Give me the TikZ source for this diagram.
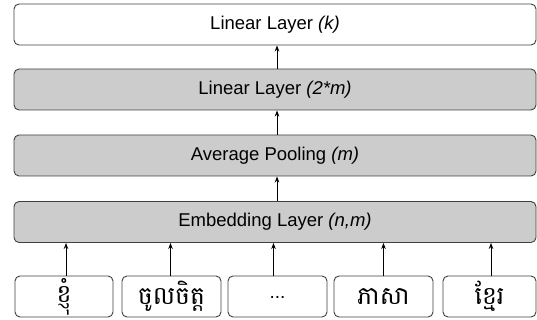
\documentclass[tikz,border=0pt]{standalone}
\usepackage{fontspec}
\setmainfont{Liberation Sans}
\newfontfamily\khmerfont[Script=Khmer]{Battambang}
\usetikzlibrary{arrows.meta}
\begin{document}
\begin{tikzpicture}[x=1pt,y=-1pt,
 layer/.style={draw=black!75, line width=0.9pt, rounded corners=5pt, fill=#1, minimum width=522pt, minimum height=41pt, inner sep=0pt, font=\fontsize{18.5}{22}\selectfont},
 tok/.style={draw=black!75, line width=0.9pt, rounded corners=5pt, fill=white, minimum width=#1, minimum height=41pt, inner sep=0pt, font=\fontsize{25}{28}\selectfont\khmerfont},
 arr/.style={-{Stealth[length=6pt,width=4.5pt]}, line width=0.8pt}]
\useasboundingbox (0,0) rectangle (537,320);
\node[layer=white] (lk) at (275,24.5) {Linear Layer \textit{(k)}};
\node[layer=black!20] (lm) at (275,89.5) {Linear Layer \textit{(2*m)}};
\node[layer=black!20] (ap) at (275,155.5) {Average Pooling \textit{(m)}};
\node[layer=black!20] (emb) at (275,222) {Embedding Layer \textit{(n,m)}};
\node[tok=98pt] (t1) at (64,296.5) {ខ្ញុំ};
\node[tok=99pt] (t2) at (171.5,296.5) {ចូលចិត្ត};
\node[tok=99pt] (t3) at (277.5,296.5) {\fontsize{19}{22}\selectfont\rmfamily\raisebox{-4pt}{...}};
\node[tok=99pt] (t4) at (383.5,296.5) {ភាសា};
\node[tok=93pt] (t5) at (489.5,296.5) {ខ្មែរ};
\draw[arr] ([xshift=2pt]lm.north) -- ([xshift=2pt]lk.south);
\draw[arr] ([xshift=2pt]ap.north) -- ([xshift=2pt]lm.south);
\draw[arr] ([xshift=2pt]emb.north) -- ([xshift=2pt]ap.south);
\draw[arr] ([xshift=2pt]t1.north) -- ([xshift=2pt]t1.north |- emb.south);
\draw[arr] ([xshift=-1pt]t2.north) -- ([xshift=-1pt]t2.north |- emb.south);
\draw[arr] ([xshift=-4pt]t3.north) -- ([xshift=-4pt]t3.north |- emb.south);
\draw[arr] (t4.north) -- (t4.north |- emb.south);
\draw[arr] ([xshift=1.5pt]t5.north) -- ([xshift=1.5pt]t5.north |- emb.south);
\end{tikzpicture}
\end{document}
